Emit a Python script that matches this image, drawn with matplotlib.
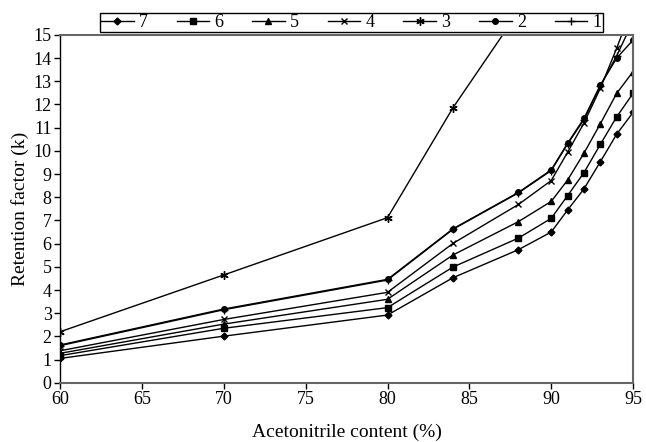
# Retention factor (k) vs acetonitrile content for the 7 columns
import matplotlib
matplotlib.use('Agg')
import matplotlib.pyplot as plt

plt.rcParams['font.family'] = ['Liberation Serif', 'DejaVu Serif']

# Acetonitrile content (%)
acn = [60, 70, 80, 84, 88, 90, 91, 92, 93, 94, 95]
acn_3 = [60, 70, 80, 84, 88]

# Retention factors per series
k_1 = [1.60, 3.15, 4.43, 6.62, 8.19, 9.15, 10.30, 11.35, 12.80, 14.10, 15.60]
k_2 = [1.63, 3.18, 4.46, 6.64, 8.21, 9.18, 10.33, 11.40, 12.84, 14.00, 14.78]
k_3 = [2.20, 4.65, 7.12, 11.86, 16.00]
k_4 = [1.38, 2.73, 3.90, 6.01, 7.69, 8.72, 9.94, 11.20, 12.70, 14.43, 16.30]
k_5 = [1.27, 2.53, 3.60, 5.51, 6.95, 7.82, 8.74, 9.90, 11.17, 12.48, 13.42]
k_6 = [1.17, 2.35, 3.24, 4.99, 6.24, 7.09, 8.07, 9.06, 10.28, 11.47, 12.48]
k_7 = [1.05, 2.01, 2.92, 4.53, 5.74, 6.50, 7.45, 8.36, 9.53, 10.72, 11.66]

series_labels = ['7', '6', '5', '4', '3', '2', '1']

fig = plt.figure(figsize=(6.46, 4.42), dpi=100)
ax = fig.add_axes([0.093, 0.134, 0.887, 0.787])

ax.plot(acn, k_7, color='black', lw=1, marker='D', ms=3.5, label=series_labels[0])
ax.plot(acn, k_6, color='black', lw=1, marker='s', ms=4, label=series_labels[1])
ax.plot(acn, k_5, color='black', lw=1, marker='^', ms=4.5, label=series_labels[2])
ax.plot(acn, k_4, color='black', lw=1, marker='x', ms=5, mew=1, label=series_labels[3])
ax.plot(acn_3, k_3, color='black', lw=1, marker=(6, 2, 0), ms=6, mew=1, label=series_labels[4])
ax.plot(acn, k_2, color='black', lw=1, marker='o', ms=4, label=series_labels[5])
ax.plot(acn, k_1, color='black', lw=1, marker='+', ms=6, mew=1, label=series_labels[6])

ax.set_xlim(60, 95)
ax.set_ylim(0, 15)
ax.set_xticks(range(60, 96, 5))
ax.set_yticks(range(0, 16))
ax.tick_params(labelsize=13, direction='out', length=4, width=1, pad=2)
ax.set_xlabel('Acetonitrile content (%)', fontsize=14, labelpad=11)
ax.set_ylabel('Retention factor (k)', fontsize=14, labelpad=3)

for side in ['top', 'right', 'bottom']:
    ax.spines[side].set_color('#666666')
    ax.spines[side].set_linewidth(1.5)
ax.spines['left'].set_color('black')
ax.spines['left'].set_linewidth(1)

fig.legend(loc='lower left', bbox_to_anchor=(0.155, 0.928, 0.778, 0.045),
           mode='expand', ncol=7, frameon=True, fancybox=False,
           edgecolor='black', framealpha=1, fontsize=13, handlelength=1.8,
           handletextpad=0.3, borderpad=0.05, borderaxespad=0)

fig.savefig('out.png', dpi=100)
